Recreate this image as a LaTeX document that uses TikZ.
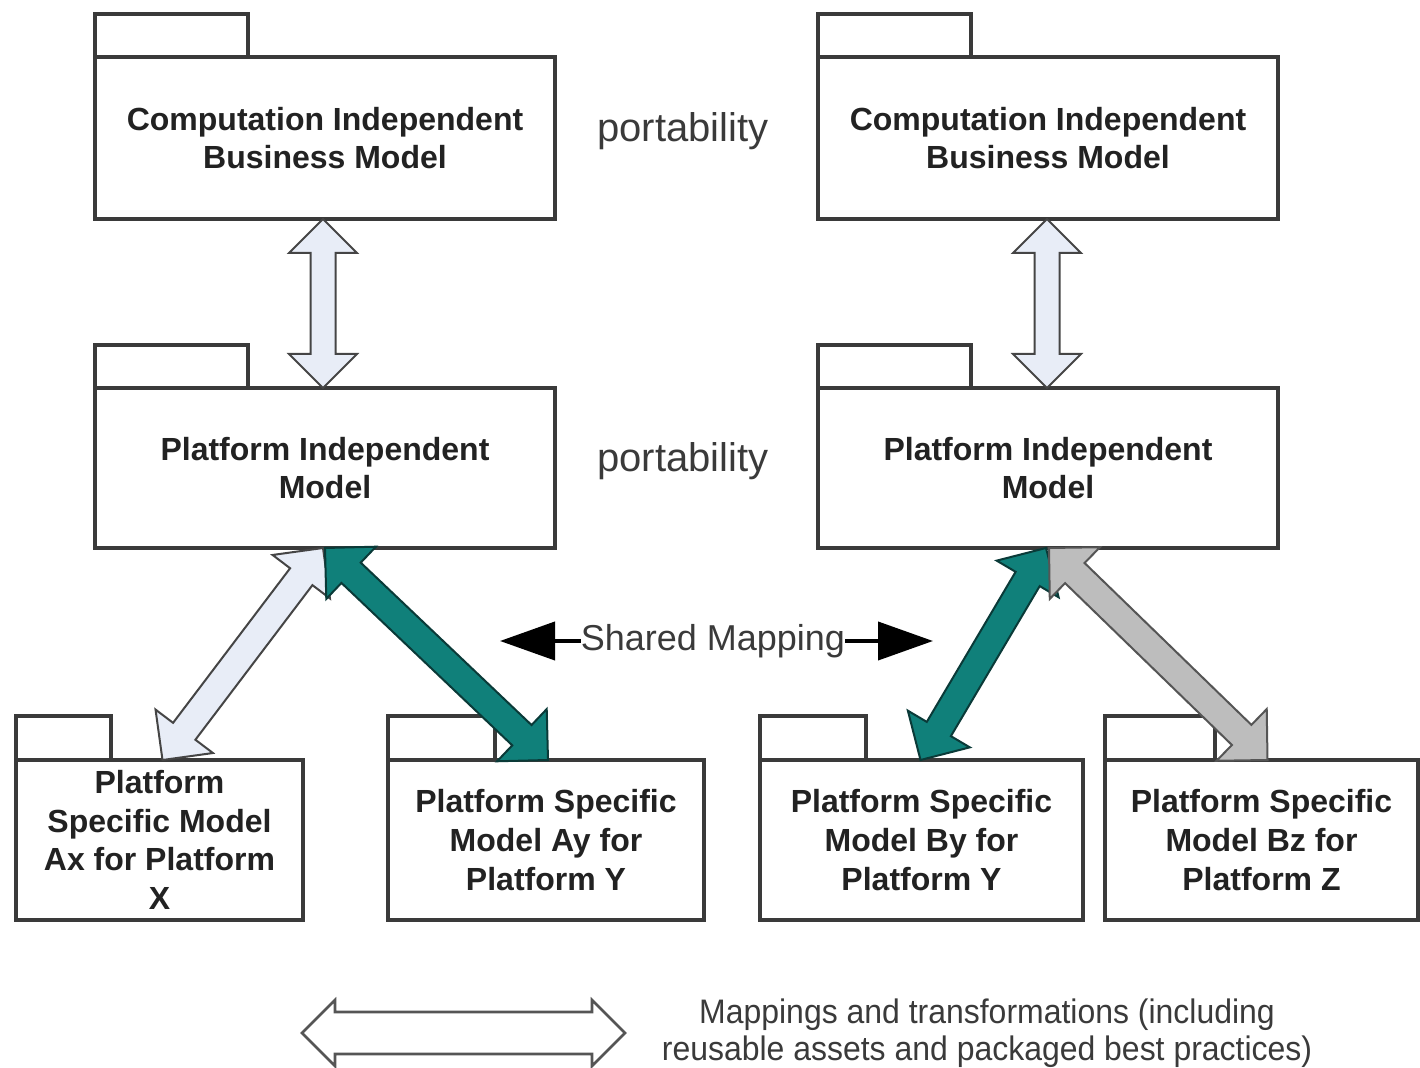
\documentclass[tikz,border=0pt]{standalone}
\usepackage{fontspec}
\setmainfont{Liberation Sans}
\newfontfamily\legendfont{Liberation Sans}[FakeStretch=0.94]
\usetikzlibrary{calc,arrows.meta}

\definecolor{edge}{HTML}{3A3A3A}
\definecolor{ink}{HTML}{222222}
\definecolor{tealfill}{RGB}{16,128,122}
\definecolor{tealedge}{RGB}{10,58,56}
\definecolor{palefill}{RGB}{232,237,247}
\definecolor{paleedge}{HTML}{454545}
\definecolor{greyfill}{HTML}{BDBDBD}
\definecolor{greyedge}{HTML}{555555}

% double-headed block arrow with 90-degree tips
% #1 style, #2 first tip, #3 second tip, #4 head length, #5 head half width, #6 shaft half width
\newcommand{\blockarrow}[6]{%
  \coordinate (ba) at (#2);
  \coordinate (bb) at (#3);
  \coordinate (ha) at ($(ba)!#4!(bb)$);
  \coordinate (hb) at ($(bb)!#4!(ba)$);
  \draw[#1] (ba)
    -- ($(ha)!#5!90:(bb)$) -- ($(ha)!#6!90:(bb)$)
    -- ($(hb)!#6!-90:(ba)$) -- ($(hb)!#5!-90:(ba)$)
    -- (bb)
    -- ($(hb)!#5!90:(ba)$) -- ($(hb)!#6!90:(ba)$)
    -- ($(ha)!#6!-90:(bb)$) -- ($(ha)!#5!-90:(bb)$)
    -- cycle;}

\tikzset{
  pkg/.style={draw=edge, line width=1.6pt, fill=white, align=center,
    font=\bfseries\fontsize{16}{19.3}\selectfont, text=ink, inner sep=0pt, outer sep=0pt},
  pkgtab/.style={draw=edge, line width=1.6pt, fill=white},
  porttext/.style={font=\fontsize{20}{24}\selectfont, text=edge},
  palearrow/.style={fill=palefill, draw=paleedge, line width=1pt, line join=miter},
  tealarrow/.style={fill=tealfill, draw=tealedge, line width=1pt, line join=miter},
  greyarrow/.style={fill=greyfill, draw=greyedge, line width=1pt, line join=miter},
  legendarrow/.style={fill=white, draw=greyedge, line width=1.3pt, line join=miter},
  sharedarrow/.style={draw=black, line width=2pt, -{Triangle[length=27.5pt,width=19pt]}},
}

\begin{document}
\begin{tikzpicture}[x=0.5pt, y=-0.5pt]
\useasboundingbox (0,0) rectangle (1420,1068);

% package bodies
\node[pkg, minimum width=230pt, minimum height=81pt] (cibmL) at (325,138)
  {Computation Independent\\Business Model};
\node[pkg, minimum width=230pt, minimum height=81pt] (cibmR) at (1048,138)
  {Computation Independent\\Business Model};
\node[pkg, minimum width=230pt, minimum height=80pt] (pimL) at (325,468)
  {Platform Independent\\Model};
\node[pkg, minimum width=230pt, minimum height=80pt] (pimR) at (1048,468)
  {Platform Independent\\Model};
\node[pkg, minimum width=143.5pt, minimum height=80pt] (psmAx) at (159.5,840)
  {Platform\\Specific Model\\Ax for Platform\\X};
\node[pkg, minimum width=158pt, minimum height=80pt] (psmAy) at (546,840)
  {Platform Specific\\Model Ay for\\Platform Y};
\node[pkg, minimum width=161.5pt, minimum height=80pt] (psmBy) at (921.5,840)
  {Platform Specific\\Model By for\\Platform Y};
\node[pkg, minimum width=156.5pt, minimum height=80pt] (psmBz) at (1261.5,840)
  {Platform Specific\\Model Bz for\\Platform Z};

% package tabs
\draw[pkgtab] (cibmL.north west) rectangle ++(76.5pt,21.5pt);
\draw[pkgtab] (cibmR.north west) rectangle ++(76.5pt,21.5pt);
\draw[pkgtab] (pimL.north west) rectangle ++(76.5pt,21.5pt);
\draw[pkgtab] (pimR.north west) rectangle ++(76.5pt,21.5pt);
\draw[pkgtab] (psmAx.north west) rectangle ++(47.5pt,22pt);
\draw[pkgtab] (psmAy.north west) rectangle ++(53.5pt,22pt);
\draw[pkgtab] (psmBy.north west) rectangle ++(53pt,22pt);
\draw[pkgtab] (psmBz.north west) rectangle ++(55pt,22pt);

% portability labels
\node[porttext] (portA) at (683,131) {portability};
\node[porttext] (portB) at (683,461) {portability};

% vertical refinement arrows
\blockarrow{palearrow}{$(cibmL.south)+(-2,0)$}{$(pimL.north)+(-2,0)$}{17pt}{17pt}{6.25pt}
\blockarrow{palearrow}{$(cibmR.south)+(-1,0)$}{$(pimR.north)+(-1,0)$}{17pt}{17pt}{6.25pt}

% PIM to PSM mappings
\blockarrow{palearrow}{$(pimL.south)+(-2,0)$}{$(psmAx.north)+(3,0)$}{18pt}{18pt}{7pt}
\blockarrow{tealarrow}{$(pimL.south)+(0,0)$}{$(psmAy.north)+(2,0)$}{18pt}{18pt}{7pt}
\blockarrow{tealarrow}{$(pimR.south)+(-2,0)$}{$(psmBy.north)+(-1,0)$}{18pt}{18pt}{7pt}
\blockarrow{greyarrow}{$(pimR.south)+(1,0)$}{$(psmBz.north)+(6,0)$}{18pt}{18pt}{7pt}

% shared mapping label
\node[font=\fontsize{18}{21}\selectfont, text=edge, inner sep=0pt] (shared) at (713,641) {Shared Mapping};
\coordinate (smL) at (500,641);
\coordinate (smR) at (933,641);
\draw[sharedarrow] (shared.west) -- (smL);
\draw[sharedarrow] (shared.east) -- (smR);

% legend
\coordinate (legA) at (302,1033);
\coordinate (legB) at (625,1033);
\blockarrow{legendarrow}{legA}{legB}{16.5pt}{16.5pt}{10.5pt}
\node[font=\legendfont\fontsize{17}{18.5}\selectfont, text=edge, align=center, inner sep=0pt] (legtext) at (987,1033)
  {Mappings and transformations (including\\reusable assets and packaged best practices)};
\end{tikzpicture}
\end{document}
